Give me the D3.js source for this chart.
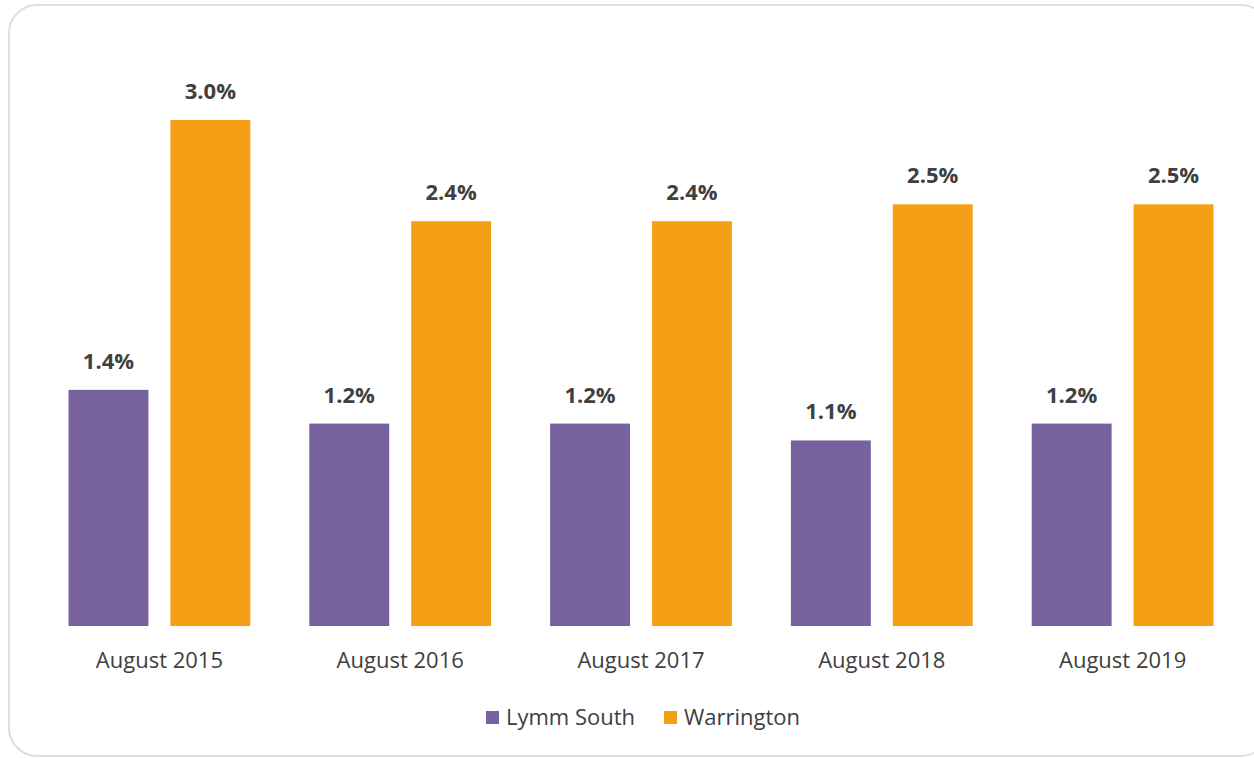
<!DOCTYPE html>
<html>
<head>
<meta charset="utf-8">
<script src="https://cdn.jsdelivr.net/npm/d3@7"></script>
<style>
  html, body { margin: 0; padding: 0; background: #fff; }
  text { font-family: "Open Sans", "Noto Sans", sans-serif; fill: #404040; }
</style>
</head>
<body>
<div id="chart"></div>
<script>
const categories = ['August 2015', 'August 2016', 'August 2017', 'August 2018', 'August 2019'];
const seriesNames = ['Lymm South', 'Warrington'];
const lymmSouth = [1.4, 1.2, 1.2, 1.1, 1.2];
const warrington = [3.0, 2.4, 2.4, 2.5, 2.5];
const colors = ['#77619e', '#f59f17'];

const width = 1254, height = 758;

const svg = d3.select('#chart')
              .append('svg')
              .attr('width', width)
              .attr('height', height);

// frame
svg.append('rect')
  .attr('x', 9)
  .attr('y', 5)
  .attr('width', 1260)
  .attr('height', 751)
  .attr('rx', 28)
  .attr('fill', '#fff')
  .attr('stroke', '#dedede')
  .attr('stroke-width', 2);

const data = categories.map((c, i) => ({
  cat: c,
  values: [lymmSouth[i], warrington[i]]
}));

const x0 = d3.scaleBand()
             .domain(categories)
             .range([39, 1243])
             .paddingInner(0.245)
             .paddingOuter(0.1225);

const x1 = d3.scaleBand()
             .domain(seriesNames)
             .range([0, x0.bandwidth()])
             .paddingInner(0.2157);

const y = d3.scaleLinear()
            .domain([0, 3.0])
            .range([626, 120]);

const groups = svg.append('g')
  .selectAll('g')
  .data(data)
  .enter()
  .append('g')
  .attr('transform', d => `translate(${x0(d.cat)},0)`);

groups.selectAll('rect')
  .data(d => d.values.map((v, i) => ({ name: seriesNames[i], value: v, i })))
  .enter()
  .append('rect')
  .attr('x', d => x1(d.name))
  .attr('y', d => y(d.value))
  .attr('width', x1.bandwidth())
  .attr('height', d => y(0) - y(d.value))
  .attr('fill', d => colors[d.i]);

groups.selectAll('text.val')
  .data(d => d.values.map((v, i) => ({ name: seriesNames[i], value: v })))
  .enter()
  .append('text')
  .attr('class', 'val')
  .attr('x', d => x1(d.name) + x1.bandwidth() / 2)
  .attr('y', d => y(d.value) - 21)
  .attr('text-anchor', 'middle')
  .style('font-size', '22px')
  .style('font-weight', 'bold')
  .text(d => d3.format('.1f')(d.value) + '%');

// category axis
const xAxis = d3.axisBottom(x0).tickSize(0).tickPadding(0);
const axisG = svg.append('g')
  .attr('transform', 'translate(0,668)')
  .call(xAxis);
axisG.select('.domain').remove();
axisG.selectAll('text')
  .attr('dy', 0)
  .style('font-family', '"Open Sans", sans-serif')
  .style('font-size', '22px')
  .style('fill', '#404040');

// legend
const legendX = [486, 664];
const legend = svg.append('g');
seriesNames.forEach((name, i) => {
  legend.append('rect')
    .attr('x', legendX[i])
    .attr('y', 711)
    .attr('width', 13)
    .attr('height', 13)
    .attr('fill', colors[i]);
  legend.append('text')
    .attr('x', legendX[i] + 20)
    .attr('y', 725)
    .style('font-size', '22px')
    .text(name);
});
</script>
</body>
</html>
